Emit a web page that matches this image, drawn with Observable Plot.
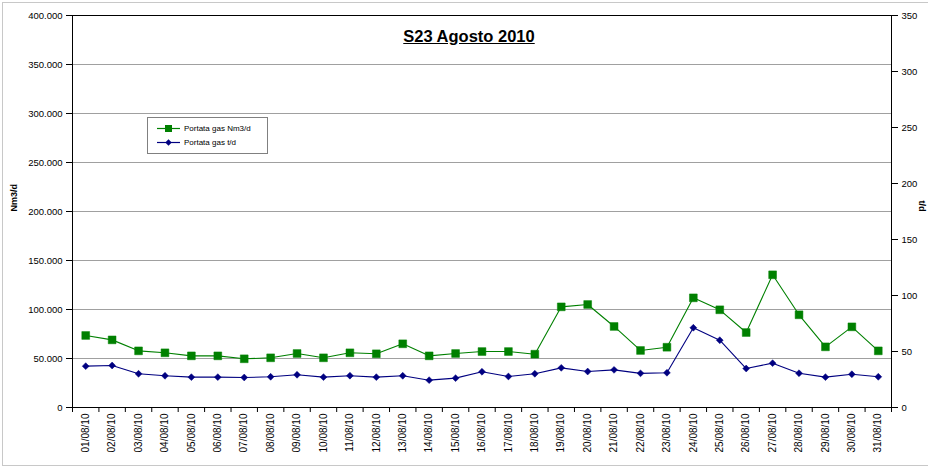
<!DOCTYPE html>
<html>
<head>
<meta charset="utf-8">
<script src="https://cdn.jsdelivr.net/npm/d3@7"></script>
<script src="https://cdn.jsdelivr.net/npm/@observablehq/plot@0.6"></script>
<style>
  html, body { margin: 0; padding: 0; background: #fff; }
  #wrap { position: relative; width: 928px; height: 472px; overflow: hidden; font-family: "Liberation Sans", Arial, sans-serif; }
  #border { position: absolute; left: 2px; top: 2px; width: 940px; height: 464px; border: 1px solid #c8c8c8; box-sizing: border-box; pointer-events: none; }
  #title { position: absolute; left: 0; width: 938px; top: 27px; text-align: center; font-weight: bold; font-size: 16.5px; text-decoration: underline; color: #000; }
  #legend { position: absolute; left: 147px; top: 117px; width: 121px; height: 37px; border: 1px solid #808080; box-sizing: border-box; background: #fff; font-size: 8px; color: #000; }
  .row { position: absolute; left: 0; height: 12px; display: flex; align-items: center; }
  .row svg { margin-left: 9px; margin-right: 4px; }
  #plot { position: absolute; left: 0; top: 0; }
</style>
</head>
<body>
<div id="wrap">
  <div id="plot"></div>
  <div id="title">S23 Agosto 2010</div>
  <div id="legend"></div>
  <div id="border"></div>
</div>
<script>
const dates = ["01/08/10","02/08/10","03/08/10","04/08/10","05/08/10","06/08/10","07/08/10","08/08/10","09/08/10","10/08/10","11/08/10","12/08/10","13/08/10","14/08/10","15/08/10","16/08/10","17/08/10","18/08/10","19/08/10","20/08/10","21/08/10","22/08/10","23/08/10","24/08/10","25/08/10","26/08/10","27/08/10","28/08/10","29/08/10","30/08/10","31/08/10"];
const portataNm3 = [73500,69000,57800,55800,52700,52700,49700,50700,55100,50700,55800,54800,65000,52700,55100,57100,57100,54400,102700,105100,82700,58200,61500,111900,99700,76500,135400,94600,61900,82300,57800];
const portataT = [36.9,37.5,30.1,28.3,27.1,27.1,26.8,27.4,29.2,27.1,28.4,27.1,28.3,24.4,26.2,31.9,27.7,30.1,35.4,32.1,33.6,30.5,31.0,71.2,60.1,34.8,39.6,30.6,27.1,29.7,27.4];
const leftTicks = [0,50000,100000,150000,200000,250000,300000,350000,400000];
const rightTicks = [0,50,100,150,200,250,300,350];
const seriesNames = ["Portata gas Nm3/d","Portata gas t/d"];
const colors = ["#008000","#000080"];

const k = 400000 / 350;
const data = dates.map((d, i) => ({day: i + 1, date: d, nm3: portataNm3[i], t: portataT[i]}));
const fmt = d3.formatLocale({decimal: ",", thousands: ".", grouping: [3], currency: ["", "€"]}).format(",");

const chart = Plot.plot({
  width: 928,
  height: 472,
  marginLeft: 72,
  marginRight: 37,
  marginTop: 15,
  marginBottom: 65,
  style: {fontFamily: "Liberation Sans, Arial, sans-serif", fontSize: "9.5px", color: "#000", background: "transparent"},
  x: {domain: [0.5, dates.length + 0.5]},
  y: {domain: [0, 400000]},
  marks: [
    Plot.gridY(leftTicks, {stroke: "#a0a0a0", strokeOpacity: 1}),
    Plot.frame({stroke: "#000"}),
    Plot.axisY(leftTicks, {anchor: "left", tickSize: 6, tickPadding: 4, tickFormat: fmt, label: null}),
    Plot.axisY(rightTicks.map(v => v * k), {anchor: "right", tickSize: 6, tickPadding: 4, tickFormat: v => Math.round(v / k), label: null}),
    Plot.axisX(d3.range(0.5, dates.length + 1, 1), {tickSize: 5, tickFormat: () => "", label: null}),
    Plot.axisX(d3.range(1, dates.length + 1), {tickSize: 0, tickPadding: 6, tickRotate: -90, fontSize: 10, tickFormat: i => dates[i - 1], label: null}),
    Plot.text(["Nm3/d"], {frameAnchor: "left", dx: -58, rotate: -90, fontWeight: "bold", fontSize: 9}),
    Plot.text(["t/d"], {frameAnchor: "right", dx: 30, rotate: 90, fontWeight: "bold", fontSize: 9}),
    Plot.line(data, {x: "day", y: "nm3", stroke: colors[0], strokeWidth: 1.1}),
    Plot.dot(data, {x: "day", y: "nm3", symbol: "square", r: 4.4, fill: colors[0], stroke: colors[0], strokeWidth: 0.5}),
    Plot.line(data, {x: "day", y: d => d.t * k, stroke: colors[1], strokeWidth: 1.1}),
    Plot.dot(data, {x: "day", y: d => d.t * k, symbol: "diamond2", r: 3.1, fill: colors[1], stroke: colors[1], strokeWidth: 0.5})
  ]
});
document.getElementById("plot").appendChild(chart);

// legend
const legend = document.getElementById("legend");
seriesNames.forEach((name, i) => {
  const row = document.createElement("div");
  row.className = "row";
  row.style.top = (i === 0 ? 4 : 18) + "px";
  const sym = i === 0
    ? `<rect x="8" y="2" width="7" height="7" fill="${colors[0]}"/>`
    : `<path d="M11.5 2.3 L14.7 5.5 L11.5 8.7 L8.3 5.5 Z" fill="${colors[1]}"/>`;
  row.innerHTML = `<svg width="23" height="11"><line x1="0" x2="23" y1="5.5" y2="5.5" stroke="${colors[i]}" stroke-width="1.2"/>${sym}</svg><span>${name}</span>`;
  legend.appendChild(row);
});
</script>
</body>
</html>
